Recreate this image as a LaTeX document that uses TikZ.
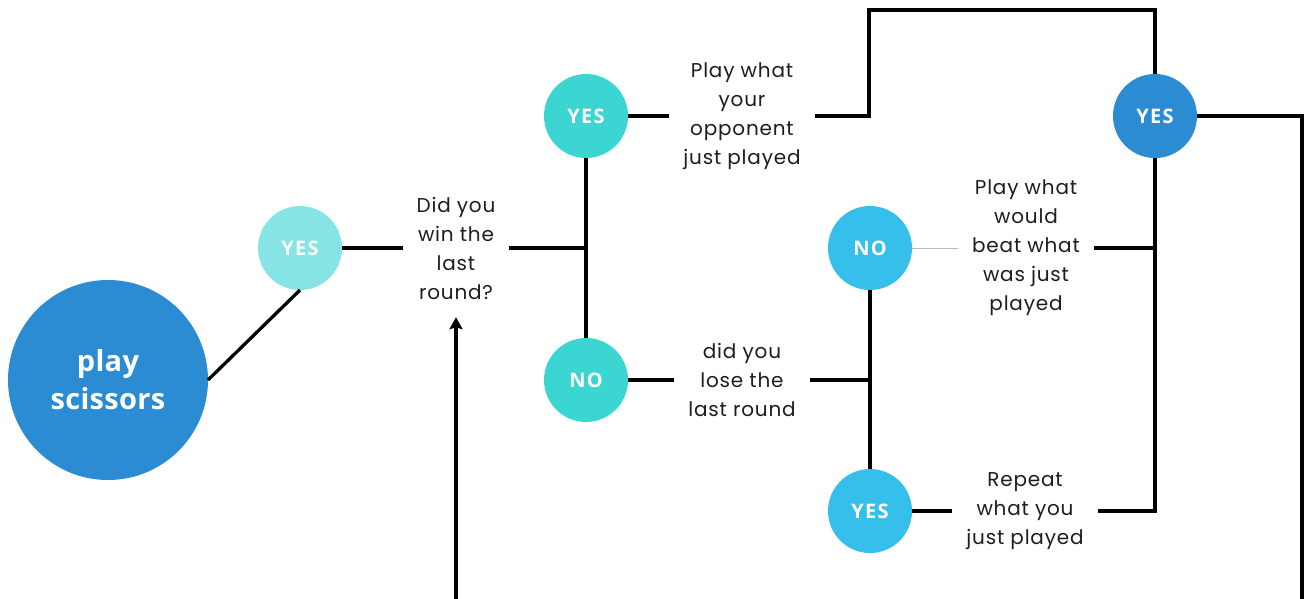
\documentclass[tikz,border=0pt]{standalone}
\usepackage{fontspec}
\setmainfont{Poppins}[LetterSpace=4]
\newfontfamily\bubblefont{Open Sans}[LetterSpace=6]
\newfontfamily\titlefont{Open Sans}[LetterSpace=1]
\usetikzlibrary{
arrows.meta,
}
\definecolor{ink}{RGB}{30,30,30}
\definecolor{deep}{RGB}{43,139,211}
\definecolor{pale}{RGB}{134,228,228}
\definecolor{aqua}{RGB}{60,214,210}
\definecolor{sky}{RGB}{54,191,234}
\tikzset{
%minimum height=2em,
outer sep=auto,
every node/.style={align=center},
bubble/.style={circle, minimum size=84pt, inner sep=0pt, text=white,
  font=\bubblefont\bfseries\fontsize{20}{22}\selectfont},
note/.style={text=ink, font=\fontsize{20}{29}\selectfont, inner xsep=14pt, inner ysep=2pt},
link/.style={line width=3.3pt, draw=black},
hairline/.style={line width=1pt, draw=gray!55},
>={Stealth[length=12pt, width=13pt, inset=2pt]},
}

\begin{document}
\begin{tikzpicture}[x=1pt, y=-1pt]
    \useasboundingbox[fill=white] (0,0) rectangle (1304,598);
    \clip (0,0) rectangle (1304,598);
    \node (ps) [bubble, fill=deep, minimum size=200pt,
        font=\titlefont\bfseries\fontsize{29}{38}\selectfont] at (108,380) {play\\scissors};
    \node (y0) [bubble, fill=pale] at (300,248) {YES};
    \node (win) [note] at (456,248) {Did you\\win the\\last\\round?};
    \node (yW) [bubble, fill=aqua] at (586,116) {YES};
    \node (nW) [bubble, fill=aqua] at (586,380) {NO};
    \node (copy) [note] at (742,116) {Play what\\your\\opponent\\just played};
    \node (lose) [note] at (742,380) {did you\\lose the\\last round};
    \node (nL) [bubble, fill=sky] at (870,248) {NO};
    \node (yL) [bubble, fill=sky] at (870,511) {YES};
    \node (beat) [note] at (1026,248) {Play what\\would\\beat what\\was just\\played};
    \node (rep) [note] at (1025,511) {Repeat\\what you\\just played};
    \node (yE) [bubble, fill=deep] at (1155,116) {YES};
    \coordinate (top) at (869,10);
    \coordinate (corner) at (1302,601);
    % first question
    \draw[link] (ps.east) -- (y0.south);
    \draw[link] (y0) -- (win);
    \draw[link] (win.east) -- (win.east -| yW);
    \draw[link] (yW) -- (nW);
    \draw[link] (yW) -- (copy);
    \draw[link] (nW) -- (lose);
    % second question
    \draw[link] (lose.east) -- (lose.east -| nL);
    \draw[link] (nL) -- (yL);
    \draw[hairline] (nL) -- (beat);
    \draw[link] (yL) -- (rep);
    % gather and loop back
    \draw[link] (copy.east) -| (top) -| (yE.north);
    \draw[link] (beat.east) -- (beat.east -| yE);
    \draw[link] (rep.east) -| (yE.south);
    \draw[link, ->, shorten >=16pt] (yE.east) -| (corner) -| (win.south);
\end{tikzpicture}
\end{document}
